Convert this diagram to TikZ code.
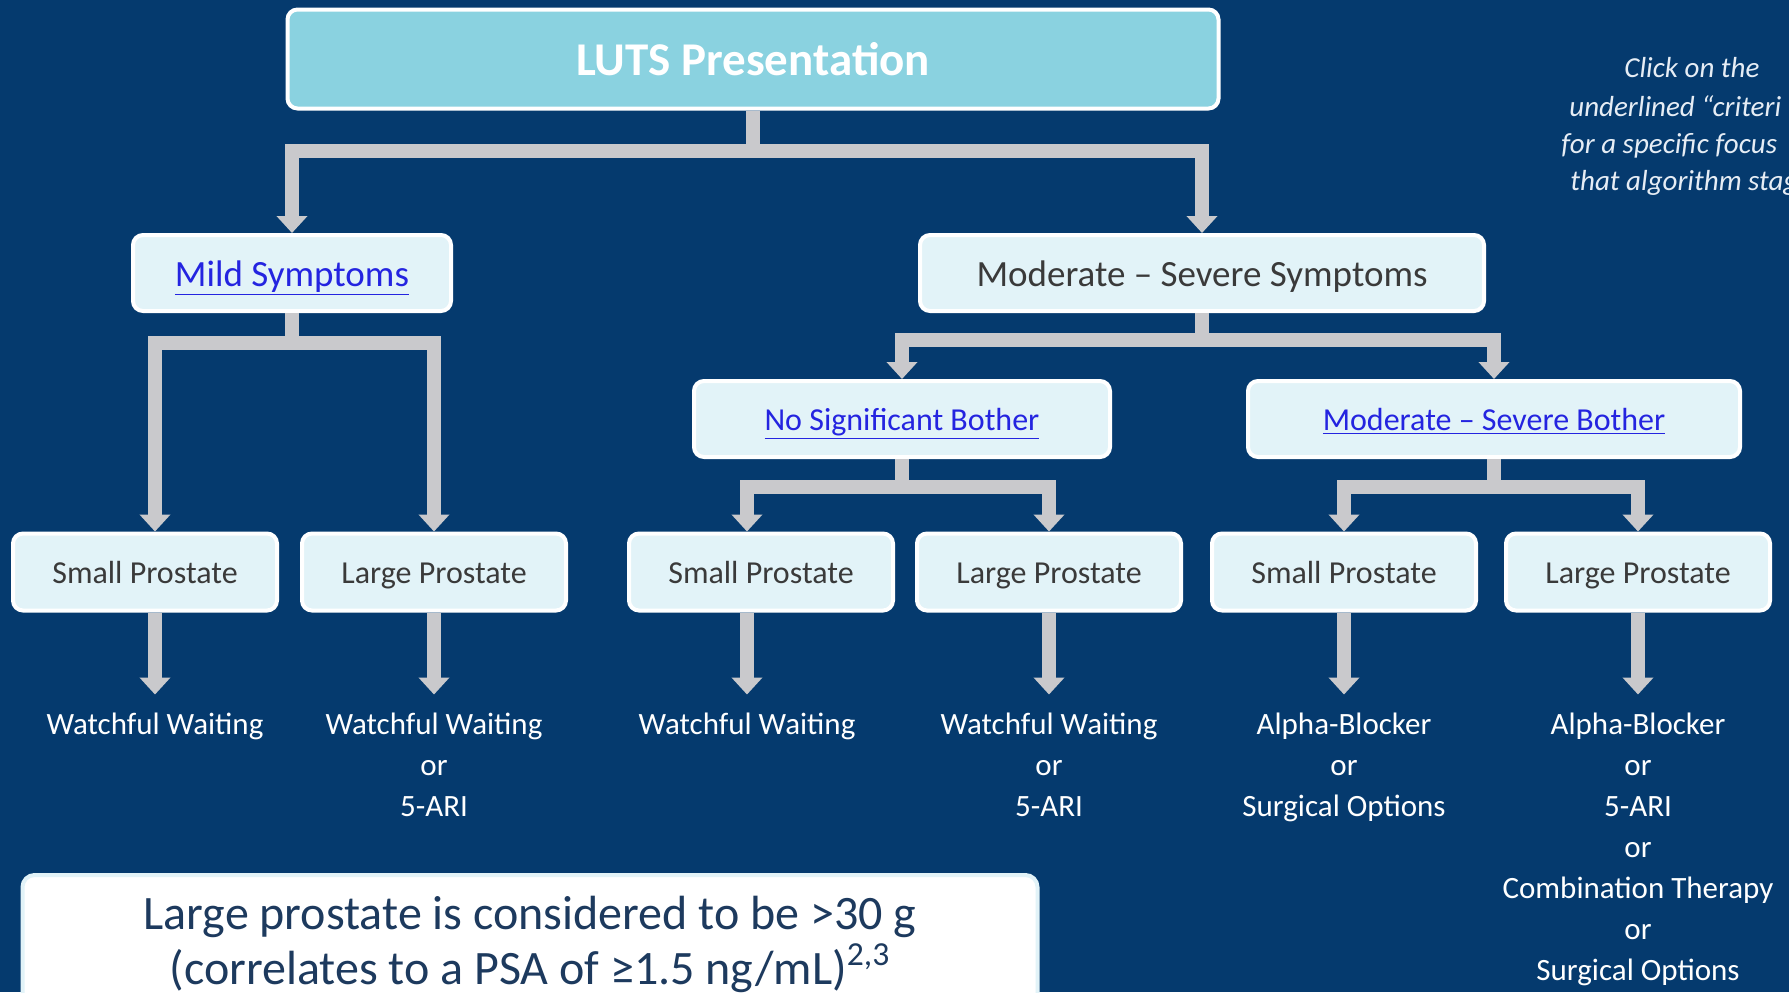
\documentclass[tikz,border=0pt]{standalone}
\usepackage{fontspec}
\setmainfont{Carlito}
\usepackage {tikz}
\usetikzlibrary {positioning}
\usetikzlibrary{arrows.meta}
\definecolor{bgnavy}{HTML}{053A6E}
\definecolor{lutscyan}{HTML}{8AD2E0}
\definecolor{boxfill}{HTML}{E2F3F8}
\definecolor{linkgray}{HTML}{C9C9CC}
\definecolor{linkblue}{HTML}{2424E0}
\definecolor{boxtext}{HTML}{3A3A3A}
\definecolor{notetext}{HTML}{1D3A5E}
\definecolor{hinttext}{HTML}{E6EDF5}
\tikzset{
    luts/.style = {rectangle, rounded corners=5pt, draw=white, line width=2pt, fill=lutscyan,
        minimum width=465.5pt, minimum height=49.5pt, text=white,
        font=\fontsize{23.5}{27}\selectfont\bfseries},
    choice/.style = {rectangle, rounded corners=5pt, draw=white, line width=2pt, fill=boxfill,
        minimum height=38pt, inner sep=0pt, text=boxtext},
    criterion/.style = {choice, text=linkblue},
    bigtext/.style = {font=\fontsize{18.5}{22}\selectfont, text height=17pt, text depth=4pt},
    smalltext/.style = {font=\fontsize{16}{19}\selectfont, text height=14.5pt, text depth=3.3pt},
    prostate/.style = {choice, smalltext, minimum width=132pt, minimum height=38.5pt},
    outcome/.style = {text=white, align=center, inner xsep=0pt, inner ysep=9pt,
        font=\fontsize{15.5}{20.5}\selectfont},
    link/.style = {draw=linkgray, line width=7pt},
    tip/.style = {-{Triangle[width=15pt,length=8.5pt]}},
    note/.style = {rectangle, rounded corners=6pt, draw=boxfill, line width=2pt, fill=white,
        minimum width=507.5pt, minimum height=69pt, align=center, text=notetext,
        font=\fontsize{24}{27.5}\selectfont},
    hint/.style = {text=hinttext, inner sep=0pt, font=\fontsize{14.5}{18.5}\selectfont\itshape}}

\begin{document}
\begin{tikzpicture}[x=0.5pt, y=-0.5pt]
    \useasboundingbox (0,0) rectangle (1789,992);
    \clip (0,0) rectangle (1789,992);
    \fill[bgnavy] (0,0) rectangle (1789,992);

    % top of the tree
    \node[luts] (luts) at (753,59) {LUTS Presentation};
    \node[criterion, bigtext, minimum width=159pt] (mild) at (292,273) {\underline{Mild Symptoms}};
    \node[choice, bigtext, minimum width=282pt] (modsev) at (1202,273) {Moderate -- Severe Symptoms};
    \node[criterion, smalltext, minimum width=208pt] (nosig) at (902,419) {\underline{No Significant Bother}};
    \node[criterion, smalltext, minimum width=246pt] (msb) at (1494,419) {\underline{Moderate -- Severe Bother}};

    % prostate size
    \node[prostate] (small1) at (145,572) {Small Prostate};
    \node[prostate] (large1) at (434,572) {Large Prostate};
    \node[prostate] (small2) at (761,572) {Small Prostate};
    \node[prostate] (large2) at (1049,572) {Large Prostate};
    \node[prostate] (small3) at (1344,572) {Small Prostate};
    \node[prostate] (large3) at (1638,572) {Large Prostate};

    % treatment
    \node[outcome, below=41pt of small1, xshift=5pt] (wait1) {Watchful Waiting};
    \node[outcome, below=41pt of large1] (wait2) {Watchful Waiting\\or\\5-ARI};
    \node[outcome, below=41pt of small2, xshift=-7pt] (wait3) {Watchful Waiting};
    \node[outcome, below=41pt of large2] (wait4) {Watchful Waiting\\or\\5-ARI};
    \node[outcome, below=41pt of small3] (alpha1) {Alpha-Blocker\\or\\Surgical Options};
    \node[outcome, below=41pt of large3] (alpha2) {Alpha-Blocker\\or\\5-ARI\\or\\Combination Therapy\\or\\Surgical Options};

    \draw[link, tip] (luts.south) -- ++(0,40) -| (mild.north);
    \draw[link, tip] (luts.south) -- ++(0,40) -| (modsev.north);
    \draw[link, tip] (mild.south) -- ++(0,30) -| (wait1.north |- small1.north);
    \draw[link, tip] (mild.south) -- ++(0,30) -| (large1.north);
    \draw[link, tip] (modsev.south) -- ++(0,27) -| (nosig.north);
    \draw[link, tip] (modsev.south) -- ++(0,27) -| (msb.north);
    \draw[link, tip] (nosig.south) -- ++(0,28) -| (wait3.north |- small2.north);
    \draw[link, tip] (nosig.south) -- ++(0,28) -| (large2.north);
    \draw[link, tip] (msb.south) -- ++(0,28) -| (small3.north);
    \draw[link, tip] (msb.south) -- ++(0,28) -| (large3.north);

    \draw[link, tip] (wait1.north |- small1.south) -- (wait1.north);
    \draw[link, tip] (large1.south) -- (wait2.north);
    \draw[link, tip] (wait3.north |- small2.south) -- (wait3.north);
    \draw[link, tip] (large2.south) -- (wait4.north);
    \draw[link, tip] (small3.south) -- (alpha1.north);
    \draw[link, tip] (large3.south) -- (alpha2.north);

    % side notes
    \node[note, anchor=north] (size) at (530,873) {Large prostate is considered to be >30 g\\(correlates to a PSA of ≥1.5 ng/mL)\textsuperscript{2,3}};
    \node[hint, anchor=base west] (hint1) at (1624,77) {Click on the};
    \node[hint, anchor=base west] (hint2) at (1569,116) {underlined “criteri};
    \node[hint, anchor=base west] (hint3) at (1561,153) {for a specific focus};
    \node[hint, anchor=base west] (hint4) at (1570,190) {that algorithm stag};
\end{tikzpicture}
\end{document}
